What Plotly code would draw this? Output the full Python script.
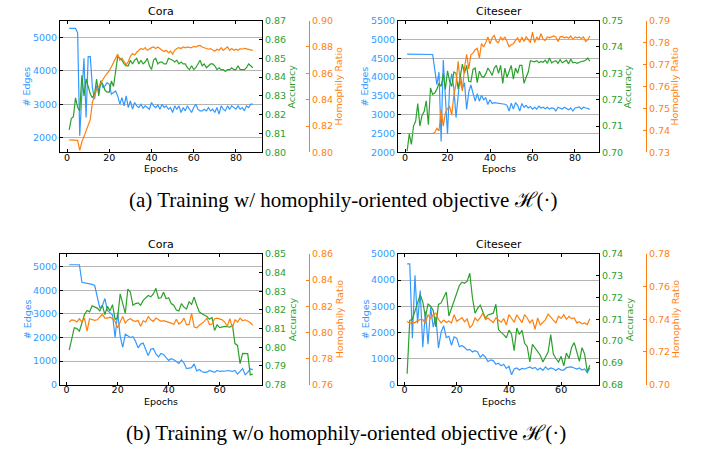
import plotly.graph_objects as go

# ---------------- data ----------------
# (a) with homophily-oriented objective, Cora
cora_h_edges = [5280, 5280, 5280, 5280, 5150, 2050, 3300, 4380, 2600, 4430,
                4430, 3500, 3150, 3550, 3400, 3700, 3500, 3550, 3650, 3600,
                3300, 3350, 3400, 3250, 3000, 3200, 2950, 3250, 2900, 3100,
                2850, 3050, 2950, 2900, 3000, 2880, 2950, 2900, 2850, 3050,
                2950, 2900, 2980, 2850, 3000, 2900, 2950, 2850, 2900, 2750,
                2950, 2850, 2950, 2750, 2900, 2800, 2950, 2850, 2750, 2900,
                3000, 2850, 2800, 2800, 2850, 2800, 2900, 2800, 2850, 2750,
                2900, 2700, 2950, 2850, 2800, 2950, 2850, 2950, 2900, 2850,
                2950, 2850, 2900, 2800, 2950, 2900, 3000, 3000]
cora_h_acc = [0.812, 0.818, 0.819, 0.829, 0.824, 0.822, 0.841, 0.830, 0.839, 0.835,
              0.831, 0.829, 0.831, 0.839, 0.830, 0.838, 0.836, 0.833, 0.832, 0.832,
              0.838, 0.835, 0.842, 0.851, 0.850, 0.849, 0.847, 0.846, 0.846, 0.849,
              0.847, 0.849, 0.850, 0.847, 0.849, 0.847, 0.848, 0.850, 0.846, 0.844,
              0.849, 0.850, 0.847, 0.848, 0.848, 0.847, 0.847, 0.850, 0.8495, 0.849,
              0.848, 0.849, 0.847, 0.848, 0.847, 0.847, 0.845, 0.844, 0.846, 0.844,
              0.845, 0.847, 0.849, 0.846, 0.847, 0.845, 0.846, 0.847, 0.847, 0.846,
              0.844, 0.845, 0.844, 0.844, 0.843, 0.844, 0.844, 0.845, 0.844, 0.844,
              0.846, 0.844, 0.844, 0.844, 0.845, 0.847, 0.846, 0.845]
cora_h_hr = [0.8095, 0.8095, 0.8095, 0.8095, 0.8092, 0.8015, 0.8080, 0.8120, 0.8160, 0.8200,
             0.8250, 0.8380, 0.8440, 0.8480, 0.8500, 0.8530, 0.8560, 0.8580, 0.8600, 0.8620,
             0.8650, 0.8680, 0.8715, 0.8746, 0.8700, 0.8715, 0.8690, 0.8665, 0.8690, 0.8730,
             0.8750, 0.8740, 0.8760, 0.8775, 0.8788, 0.8780, 0.8795, 0.8775, 0.8788, 0.8795,
             0.8800, 0.8788, 0.8800, 0.8785, 0.8775, 0.8765, 0.8775, 0.8756, 0.8768, 0.8746,
             0.8775, 0.8788, 0.8795, 0.8788, 0.8800, 0.8793, 0.8800, 0.8795, 0.8795, 0.8805,
             0.8800, 0.8808, 0.8812, 0.8800, 0.8795, 0.8788, 0.8783, 0.8788, 0.8775, 0.8768,
             0.8783, 0.8775, 0.8795, 0.8775, 0.8788, 0.8800, 0.8775, 0.8788, 0.8775, 0.8783,
             0.8775, 0.8788, 0.8783, 0.8790, 0.8786, 0.8780, 0.8778, 0.8775]

# (a) with homophily-oriented objective, Citeseer
cite_h_edges = [4610, 4610, 4610, 4610, 4610, 4610, 4610, 4610, 4610, 4610,
                4610, 4610, 4600, 4200, 3800, 4130, 2290, 4455, 3490, 2490,
                3750, 4090, 3700, 2925, 3490, 4090, 3700, 3850, 3140, 3600,
                3790, 3600, 3360, 3560, 3360, 3520, 3400, 3450, 3270, 3400,
                3300, 3320, 3310, 3320, 3300, 3300, 3280, 3250, 3100, 3310,
                3150, 3320, 3250, 3100, 3300, 3200, 3250, 3180, 3220, 3150,
                3200, 3150, 3230, 3180, 3200, 3160, 3200, 3150, 3180, 3170,
                3100, 3200, 3180, 3150, 3200, 3170, 3130, 3180, 3100, 3180,
                3200, 3210, 3150, 3200, 3180, 3170, 3140]
cite_h_acc = [0.7005, 0.7070, 0.7030, 0.7100, 0.7118, 0.7185, 0.7100, 0.7140, 0.7155, 0.7196,
              0.7105, 0.7245, 0.7220, 0.7225, 0.7240, 0.7262, 0.7250, 0.7298, 0.7240, 0.7310,
              0.7270, 0.7250, 0.7305, 0.7300, 0.7240, 0.7290, 0.7335, 0.7300, 0.7330, 0.7270,
              0.7268, 0.7315, 0.7320, 0.7265, 0.7308, 0.7290, 0.7285, 0.7298, 0.7320, 0.7308,
              0.7292, 0.7320, 0.7330, 0.7300, 0.7330, 0.7262, 0.7320, 0.7285, 0.7310, 0.7330,
              0.7278, 0.7320, 0.7300, 0.7330, 0.7330, 0.7262, 0.7285, 0.7305, 0.7348, 0.7346,
              0.7344, 0.7348, 0.7340, 0.7345, 0.7342, 0.7350, 0.7338, 0.7358, 0.7340, 0.7345,
              0.7348, 0.7338, 0.7352, 0.7340, 0.7346, 0.7350, 0.7336, 0.7354, 0.7340, 0.7342,
              0.7338, 0.7342, 0.7345, 0.7346, 0.7350, 0.7358, 0.7346]
cite_h_hr = [0.7386, 0.7386, 0.7386, 0.7386, 0.7386, 0.7386, 0.7386, 0.7386, 0.7386, 0.7386,
             0.7386, 0.7386, 0.7386, 0.7390, 0.7410, 0.7398, 0.7496, 0.7419, 0.7480, 0.7500,
             0.7510, 0.7470, 0.7560, 0.7611, 0.7715, 0.7620, 0.7580, 0.7685, 0.7747, 0.7680,
             0.7744, 0.7752, 0.7768, 0.7774, 0.7730, 0.7796, 0.7780, 0.7800, 0.7826, 0.7795,
             0.7822, 0.7833, 0.7805, 0.7800, 0.7826, 0.7812, 0.7826, 0.7805, 0.7781, 0.7790,
             0.7795, 0.7810, 0.7822, 0.7800, 0.7826, 0.7805, 0.7826, 0.7815, 0.7800, 0.7848,
             0.7800, 0.7826, 0.7812, 0.7840, 0.7815, 0.7810, 0.7826, 0.7822, 0.7826, 0.7830,
             0.7826, 0.7805, 0.7826, 0.7828, 0.7822, 0.7826, 0.7820, 0.7830, 0.7815, 0.7826,
             0.7822, 0.7826, 0.7818, 0.7826, 0.7805, 0.7812, 0.7830]

# (b) without homophily-oriented objective, Cora
cora_edges = [5080, 5080, 5080, 5080, 5080, 4340, 4320, 4300, 4280, 4250,
              4200, 3700, 3250, 3350, 3650, 3150, 3050, 2950, 2000, 3050,
              2050, 1580, 2140, 2080, 2000, 2030, 1850, 1560, 1720, 1760,
              1500, 1230, 1500, 1530, 1300, 1180, 1320, 1280, 1150, 1030,
              1100, 1060, 980, 900, 1050, 920, 680, 700, 720, 880,
              580, 640, 560, 520, 530, 600, 550, 520, 600, 560,
              580, 570, 600, 590, 560, 600, 450, 560, 680, 420,
              520, 670, 640]
cora_acc = [0.7985, 0.8055, 0.8105, 0.8100, 0.8087, 0.8130, 0.8175, 0.8197, 0.8190, 0.8222,
            0.8218, 0.8210, 0.8195, 0.8225, 0.8175, 0.8220, 0.8195, 0.8228, 0.8148, 0.8160,
            0.8286, 0.8234, 0.8182, 0.8312, 0.8295, 0.8225, 0.8234, 0.8238, 0.8225, 0.8251,
            0.8265, 0.8277, 0.8270, 0.8286, 0.8316, 0.8262, 0.8265, 0.8295, 0.8260, 0.8265,
            0.8234, 0.8225, 0.8200, 0.8195, 0.8234, 0.8215, 0.8205, 0.8243, 0.8230, 0.8269,
            0.8225, 0.8190, 0.8180, 0.8170, 0.8165, 0.8150, 0.8160, 0.8090, 0.8120, 0.8105,
            0.8108, 0.8112, 0.8110, 0.8108, 0.8120, 0.8020, 0.8010, 0.7913, 0.7968, 0.7965,
            0.7966, 0.7852, 0.7858]
cora_hr = [0.8079, 0.8096, 0.8092, 0.8079, 0.8104, 0.8080, 0.8109, 0.8009, 0.8104, 0.8096,
           0.8092, 0.8096, 0.8121, 0.8138, 0.8109, 0.8109, 0.8116, 0.8104, 0.8084, 0.8034,
           0.8079, 0.8121, 0.8071, 0.8095, 0.8104, 0.8090, 0.8084, 0.8090, 0.8047, 0.8089,
           0.8079, 0.8121, 0.8096, 0.8084, 0.8109, 0.8096, 0.8084, 0.8090, 0.8084, 0.8079,
           0.8071, 0.8060, 0.8100, 0.8064, 0.8079, 0.8109, 0.8059, 0.8059, 0.8146, 0.8040,
           0.8034, 0.8054, 0.8071, 0.8084, 0.8109, 0.8060, 0.8064, 0.8104, 0.8109, 0.8104,
           0.8096, 0.8079, 0.8047, 0.8104, 0.8034, 0.8096, 0.8079, 0.8109, 0.8089, 0.8096,
           0.8084, 0.8075, 0.8054]

# (b) without homophily-oriented objective, Citeseer
cite_edges = [4620, 4620, 1780, 4180, 2350, 3600, 1430, 2800, 1550, 2950,
              2200, 2600, 1400, 2000, 2250, 1800, 1850, 1500, 1830, 1780,
              1450, 1500, 1420, 1320, 1350, 1250, 1300, 1250, 1050, 1150,
              1050, 880, 950, 920, 780, 820, 720, 780, 620, 700,
              380, 600, 640, 560, 620, 600, 640, 680, 620, 660,
              560, 640, 550, 680, 580, 640, 610, 540, 620, 560,
              560, 650, 670, 680, 640, 600, 640, 560, 600, 450,
              650]
cite_acc = [0.6850, 0.7095, 0.7100, 0.7135, 0.7180, 0.7213, 0.7180, 0.7110, 0.7170, 0.7160,
            0.7140, 0.7065, 0.7168, 0.7175, 0.7200, 0.7225, 0.7115, 0.7150, 0.7180, 0.7220,
            0.7255, 0.7270, 0.7265, 0.7275, 0.7311, 0.7200, 0.7128, 0.7150, 0.7165, 0.7135,
            0.7105, 0.7120, 0.7125, 0.7128, 0.7169, 0.7053, 0.7040, 0.7030, 0.7015, 0.7050,
            0.7032, 0.6956, 0.7060, 0.7030, 0.7050, 0.6990, 0.6975, 0.6904, 0.6985, 0.6970,
            0.6950, 0.6935, 0.6904, 0.6930, 0.6950, 0.7030, 0.6940, 0.6920, 0.6904, 0.6930,
            0.6886, 0.6945, 0.6920, 0.6971, 0.6993, 0.6950, 0.6907, 0.6970, 0.6940, 0.6860,
            0.6889]
cite_hr = [0.7388, 0.7375, 0.7380, 0.7380, 0.7392, 0.7398, 0.7398, 0.7375, 0.7428, 0.7405,
           0.7428, 0.7438, 0.7400, 0.7378, 0.7395, 0.7380, 0.7390, 0.7378, 0.7428, 0.7388,
           0.7398, 0.7410, 0.7385, 0.7402, 0.7349, 0.7365, 0.7408, 0.7390, 0.7410, 0.7438,
           0.7398, 0.7408, 0.7392, 0.7380, 0.7408, 0.7395, 0.7382, 0.7405, 0.7365, 0.7428,
           0.7408, 0.7382, 0.7428, 0.7400, 0.7380, 0.7428, 0.7408, 0.7378, 0.7398, 0.7339,
           0.7408, 0.7365, 0.7380, 0.7398, 0.7432, 0.7410, 0.7395, 0.7378, 0.7418, 0.7405,
           0.7428, 0.7400, 0.7418, 0.7404, 0.7408, 0.7378, 0.7385, 0.7372, 0.7378, 0.7368,
           0.7404]

titles = ["Cora", "Citeseer", "Cora", "Citeseer"]
x_ticks_a = [0, 20, 40, 60, 80]
x_ticks_b = [0, 20, 40, 60]
captions = ["(a) Training w/ homophily-oriented objective \u210b(\u00b7)",
            "(b) Training w/o homophily-oriented objective \u210b(\u00b7)"]

# ---------------- style / layout ----------------
W, H = 707, 458
BLUE, GREEN, ORANGE = "#3399ff", "#2ca02c", "#ff7f0e"
FONT = "DejaVu Sans"
FS = 9.5
GRID = "#b4b4b4"


def px(v):
    return v / W


def py(v):
    return 1 - v / H


panels = [
    dict(edges=cora_h_edges, acc=cora_h_acc, hr=cora_h_hr, x0=60, x1=262, top=15, bot=150,
         spine=309, xr=[-3.35, 92.35], xt=x_ticks_a, er=[1550, 5515], ed=1000,
         ar=[0.80, 0.87], hrr=[0.80, 0.90], hd=0.02, lab_e=27, lab_a=292, lab_h=339, lab_x=166.5),
    dict(edges=cite_h_edges, acc=cite_h_acc, hr=cite_h_hr, x0=398, x1=599, top=15, bot=150,
         spine=646, xr=[-3.3, 91.3], xt=x_ticks_a, er=[2000, 5500], ed=500,
         ar=[0.70, 0.75], hrr=[0.73, 0.79], hd=0.01, lab_e=365, lab_a=628, lab_h=675, lab_x=166.5),
    dict(edges=cora_edges, acc=cora_acc, hr=cora_hr, x0=60, x1=262, top=254, bot=388,
         spine=309, xr=[-2.6, 76.6], xt=x_ticks_b, er=[0, 5540], ed=1000,
         ar=[0.78, 0.85], hrr=[0.76, 0.86], hd=0.02, lab_e=27, lab_a=292, lab_h=339, lab_x=405.5),
    dict(edges=cite_edges, acc=cite_acc, hr=cite_hr, x0=398, x1=599, top=254, bot=388,
         spine=646, xr=[-2.5, 74.5], xt=x_ticks_b, er=[0, 5000], ed=1000,
         ar=[0.68, 0.74], hrr=[0.70, 0.78], hd=0.02, lab_e=365, lab_a=629, lab_h=675, lab_x=405.5),
]

fig = go.Figure()
layout = dict(width=W, height=H, margin=dict(l=0, r=0, t=0, b=0),
              paper_bgcolor="white", plot_bgcolor="white", showlegend=False,
              font=dict(family=FONT, size=FS, color="black"))
annotations = []

for i, p in enumerate(panels):
    n = i + 1
    xid = "x" if n == 1 else f"x{n}"
    k = 3 * i + 1
    ye, ya, yh = [("y" if j == 1 else f"y{j}") for j in (k, k + 1, k + 2)]
    xkey = "xaxis" if n == 1 else f"xaxis{n}"
    ykeys = [("yaxis" if j == 1 else f"yaxis{j}") for j in (k, k + 1, k + 2)]
    xd = [px(p["x0"]), px(p["x1"])]
    yd = [py(p["bot"]), py(p["top"])]

    ep_e = list(range(1, len(p["edges"]) + 1))
    ep_a = list(range(1, len(p["acc"]) + 1))
    ep_h = list(range(1, len(p["hr"]) + 1))
    fig.add_trace(go.Scatter(x=ep_e, y=p["edges"], mode="lines", xaxis=xid, yaxis=ye,
                             line=dict(color=BLUE, width=1.2)))
    fig.add_trace(go.Scatter(x=ep_a, y=p["acc"], mode="lines", xaxis=xid, yaxis=ya,
                             line=dict(color=GREEN, width=1.2)))
    fig.add_trace(go.Scatter(x=ep_h, y=p["hr"], mode="lines", xaxis=xid, yaxis=yh,
                             line=dict(color=ORANGE, width=1.2)))

    layout[xkey] = dict(domain=xd, anchor=ye, range=p["xr"], tickvals=p["xt"],
                        showline=True, linecolor="black", linewidth=1, mirror="ticks",
                        ticks="inside", ticklen=3, tickcolor="black", showgrid=False,
                        zeroline=False, ticklabelstandoff=-4,
                        tickfont=dict(size=FS, color="black"))
    layout[ykeys[0]] = dict(domain=yd, anchor=xid, range=p["er"], dtick=p["ed"], tick0=0,
                            tickformat="d", showline=True, linecolor="black", linewidth=1,
                            ticks="inside", ticklen=3, tickcolor="black",
                            showgrid=True, gridcolor=GRID, gridwidth=1, zeroline=False,
                            tickfont=dict(size=FS, color=BLUE))
    layout[ykeys[1]] = dict(domain=yd, anchor=xid, overlaying=ye, side="right",
                            range=p["ar"], dtick=0.01, tick0=0, tickformat=".2f",
                            showline=True, linecolor="black", linewidth=1,
                            ticks="inside", ticklen=3, tickcolor="black",
                            showgrid=False, zeroline=False,
                            tickfont=dict(size=FS, color=GREEN))
    layout[ykeys[2]] = dict(domain=yd, anchor="free", overlaying=ye, side="right",
                            position=px(p["spine"]), range=p["hrr"], dtick=p["hd"], tick0=0,
                            tickformat=".2f", showline=True, linecolor=ORANGE, linewidth=1,
                            ticks="inside", ticklen=3, tickcolor=ORANGE,
                            showgrid=False, zeroline=False,
                            tickfont=dict(size=FS, color=ORANGE))

    cx = (p["x0"] + p["x1"]) / 2
    cy = (p["top"] + p["bot"]) / 2
    annotations += [
        dict(text=titles[i], x=px(cx), y=py(p["top"] - 1), xref="paper", yref="paper",
             xanchor="center", yanchor="bottom", showarrow=False,
             font=dict(size=11, color="black")),
        dict(text="# Edges", x=px(p["lab_e"]), y=py(cy), xref="paper", yref="paper",
             textangle=-90, xanchor="center", yanchor="middle", showarrow=False,
             font=dict(size=FS, color=BLUE)),
        dict(text="Accuracy", x=px(p["lab_a"]), y=py(cy), xref="paper", yref="paper",
             textangle=-90, xanchor="center", yanchor="middle", showarrow=False,
             font=dict(size=FS, color=GREEN)),
        dict(text="Homophily Ratio", x=px(p["lab_h"]), y=py(cy), xref="paper", yref="paper",
             textangle=-90, xanchor="center", yanchor="middle", showarrow=False,
             font=dict(size=FS, color=ORANGE)),
        dict(text="Epochs", x=px(cx), y=py(p["lab_x"]), xref="paper", yref="paper",
             xanchor="center", yanchor="middle", showarrow=False,
             font=dict(size=FS, color="black")),
    ]

annotations += [
    dict(text=captions[0], x=px(343), y=py(199), xref="paper", yref="paper",
         xanchor="center", yanchor="middle", showarrow=False,
         font=dict(family="Liberation Serif", size=21, color="black")),
    dict(text=captions[1], x=px(346), y=py(437), xref="paper", yref="paper",
         xanchor="center", yanchor="middle", showarrow=False,
         font=dict(family="Liberation Serif", size=21, color="black")),
]
layout["annotations"] = annotations
fig.update_layout(**layout)
fig.write_html("out.html", config={"displayModeBar": False},
               post_script="document.body.style.margin='0';document.body.style.overflow='hidden';")
